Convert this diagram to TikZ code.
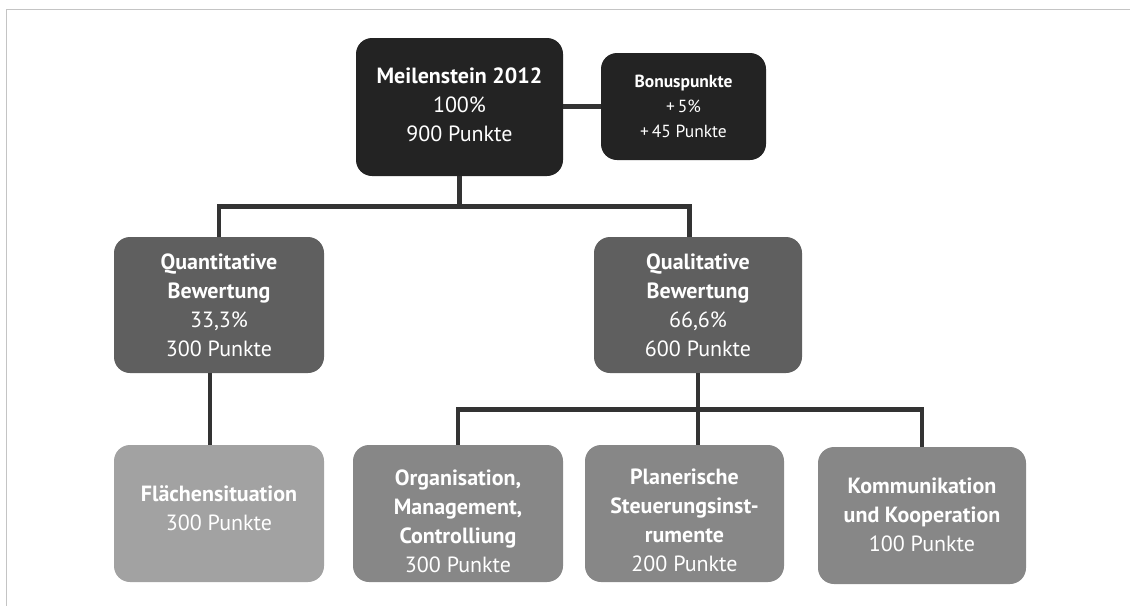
\documentclass[tikz,border=0pt]{standalone}
\usepackage{fontspec}
\setmainfont{PT Sans}
\definecolor{cdark}{HTML}{232323}
\definecolor{cmid}{HTML}{5F5F5F}
\definecolor{cgrey}{HTML}{878787}
\definecolor{clight}{HTML}{A2A2A2}
\definecolor{cline}{HTML}{333333}
\definecolor{cframe}{HTML}{C4C4C4}
\begin{document}
\begin{tikzpicture}[x=1pt,y=-1pt,
  box/.style={rectangle, rounded corners=16pt, inner sep=0pt, draw=none},
  txt/.style={align=center, text=white, inner sep=0pt, font=\fontsize{22}{29}\selectfont},
  smalltxt/.style={align=center, text=white, inner sep=0pt, font=\fontsize{17.5}{25}\selectfont},
  conn/.style={draw=cline, line width=4.5pt, line join=miter},
  frame/.style={draw=cframe, line width=1.5pt}]
\useasboundingbox (0,0) rectangle (1130,606);
% frame
\coordinate (fa) at (1130,9.5);
\coordinate (fb) at (6.5,9.5);
\coordinate (fc) at (6.5,606);
\draw[frame] (fa) -- (fb) -- (fc);
% boxes
\node[box, fill=cdark, minimum width=207pt, minimum height=138pt] (m) at (459.5,107) {};
\node[box, fill=cdark, minimum width=165pt, minimum height=107pt] (bon) at (683.5,106.5) {};
\node[box, fill=cmid, minimum width=210pt, minimum height=136pt] (quan) at (219,305) {};
\node[box, fill=cmid, minimum width=208pt, minimum height=136pt] (qual) at (698,305) {};
\node[box, fill=clight, minimum width=210pt, minimum height=137pt] (flae) at (219,513.5) {};
\node[box, fill=cgrey, minimum width=210pt, minimum height=137pt] (org) at (458,513.5) {};
\node[box, fill=cgrey, minimum width=199pt, minimum height=137pt] (plan) at (684.5,513.5) {};
\node[box, fill=cgrey, minimum width=208pt, minimum height=137pt] (komm) at (922,515.5) {};
% texts
\node[txt] (mt) at (459.5,105) {\textbf{Meilenstein 2012}\\100\%\\900 Punkte};
\node[smalltxt] (bont) at (683.5,106) {\textbf{Bonuspunkte}\\+\,5\%\\+\,45 Punkte};
\node[txt] (quant) at (219,305) {\textbf{Quantitative}\\\textbf{Bewertung}\\33,3\%\\300 Punkte};
\node[txt] (qualt) at (698,305) {\textbf{Qualitative}\\\textbf{Bewertung}\\66,6\%\\600 Punkte};
\node[txt] (flaet) at (219,508) {\textbf{Flächensituation}\\300 Punkte};
\node[txt] (orgt) at (458,521) {\textbf{Organisation,}\\\textbf{Management,}\\\textbf{Controlliung}\\300 Punkte};
\node[txt] (plant) at (684.5,520) {\textbf{Planerische}\\\textbf{Steuerungsinst-}\\\textbf{rumente}\\200 Punkte};
\node[txt] (kommt) at (922,515) {\textbf{Kommunikation}\\\textbf{und Kooperation}\\100 Punkte};
% connectors
\coordinate (h1) at (459.5,206.5);
\coordinate (h2) at (698,409.5);
\draw[conn] (bon.west) -- (bon.west -| m.east);
\draw[conn] (m.south) -- (h1);
\draw[conn] (quan.north) |- (h1) -| ([xshift=-8.5pt]qual.north);
\draw[conn] ([xshift=-9pt]quan.south) -- ([xshift=-9pt]flae.north);
\draw[conn] (qual.south) -- (qual.south |- plan.north);
\draw[conn] (org.north) |- (h2) -| (komm.north);
\end{tikzpicture}
\end{document}
